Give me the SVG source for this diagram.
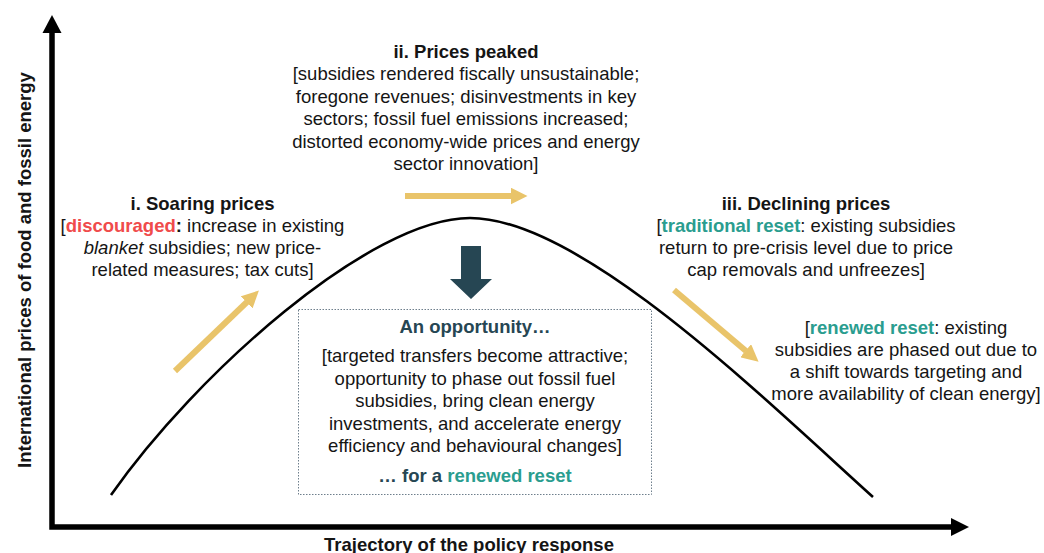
<svg xmlns="http://www.w3.org/2000/svg" width="1044" height="553" viewBox="0 0 1044 553">
<style>
text{font-family:"Liberation Sans",Arial,sans-serif;font-size:18.5px;fill:#151515}
.c{text-anchor:middle}
.b{font-weight:bold}
.red{fill:#F04B4B;font-weight:bold}
.teal{fill:#2A9D8F;font-weight:bold}
.dark{fill:#264653;font-weight:bold}
.axis{fill:none;stroke:#000;stroke-width:5.5;stroke-linejoin:miter}
.curve{fill:none;stroke:#000;stroke-width:2.6}
.ya{fill:none;stroke:#E9C46A;stroke-width:6;marker-end:url(#yh)}
</style>
<defs>
<marker id="yh" markerUnits="userSpaceOnUse" viewBox="0 0 17 17" refX="0.5" refY="8.5" markerWidth="17" markerHeight="17" orient="auto">
<path d="M0,0 L17,8.5 L0,17 Z" fill="#E9C46A"/>
</marker>
</defs>
<rect width="1044" height="553" fill="#fff"/>
<g id="axes">
<path class="axis" d="M52,32 V527 H952"/>
<polygon points="52,15 61.5,33 42.5,33" fill="#000"/>
<polygon points="969,527 951,518 951,536" fill="#000"/>
<text class="b c" transform="translate(31,270) rotate(-90)">International prices of food and fossil energy</text>
<text class="b c" x="469" y="551">Trajectory of the policy response</text>
</g>
<g id="curve">
<path class="curve" d="M111,495 C195,375 370,218 470,218 C580,218 760,395 873,497"/>
</g>
<g id="connectors">
<line class="ya" x1="175" y1="371" x2="247" y2="302"/>
<line class="ya" x1="405" y1="196" x2="511" y2="196"/>
<line class="ya" x1="674" y1="290" x2="746" y2="351"/>
<path d="M461,246 H481 V279 H492 L471,299 L450,279 H461 Z" fill="#264653"/>
</g>
<g id="soaring">
<text class="b c" x="202.5" y="210">i. Soaring prices</text>
<text class="c" x="202.5" y="232">[<tspan class="red">discouraged</tspan><tspan class="b">:</tspan> increase in existing</text>
<text class="c" x="202.5" y="254"><tspan font-style="italic">blanket</tspan> subsidies; new price-</text>
<text class="c" x="202.5" y="276">related measures; tax cuts]</text>
</g>
<g id="peaked">
<text class="b c" x="466" y="58">ii. Prices peaked</text>
<text class="c" x="466" y="80">[subsidies rendered fiscally unsustainable;</text>
<text class="c" x="466" y="102.5">foregone revenues; disinvestments in key</text>
<text class="c" x="466" y="125">sectors; fossil fuel emissions increased;</text>
<text class="c" x="466" y="147.5">distorted economy-wide prices and energy</text>
<text class="c" x="466" y="170">sector innovation]</text>
</g>
<g id="declining">
<text class="b c" x="806" y="210">iii. Declining prices</text>
<text class="c" x="806" y="232">[<tspan class="teal">traditional reset</tspan>: existing subsidies</text>
<text class="c" x="806" y="254">return to pre-crisis level due to price</text>
<text class="c" x="806" y="276">cap removals and unfreezes]</text>
</g>
<g id="renewed">
<text class="c" x="906" y="334">[<tspan class="teal">renewed reset</tspan>: existing</text>
<text class="c" x="906" y="356">subsidies are phased out due to</text>
<text class="c" x="906" y="378">a shift towards targeting and</text>
<text class="c" x="906" y="400">more availability of clean energy]</text>
</g>
<g id="opportunity">
<rect x="298.5" y="309.5" width="353" height="185" fill="none" stroke="#6E7F8C" stroke-width="1" stroke-dasharray="1.5,1.5"/>
<text class="dark c" x="475" y="333">An opportunity…</text>
<text class="c" x="475" y="362">[targeted transfers become attractive;</text>
<text class="c" x="475" y="384.5">opportunity to phase out fossil fuel</text>
<text class="c" x="475" y="407">subsidies, bring clean energy</text>
<text class="c" x="475" y="429.5">investments, and accelerate energy</text>
<text class="c" x="475" y="452">efficiency and behavioural changes]</text>
<text class="dark c" x="475" y="482">… for a <tspan class="teal">renewed reset</tspan></text>
</g>
</svg>
